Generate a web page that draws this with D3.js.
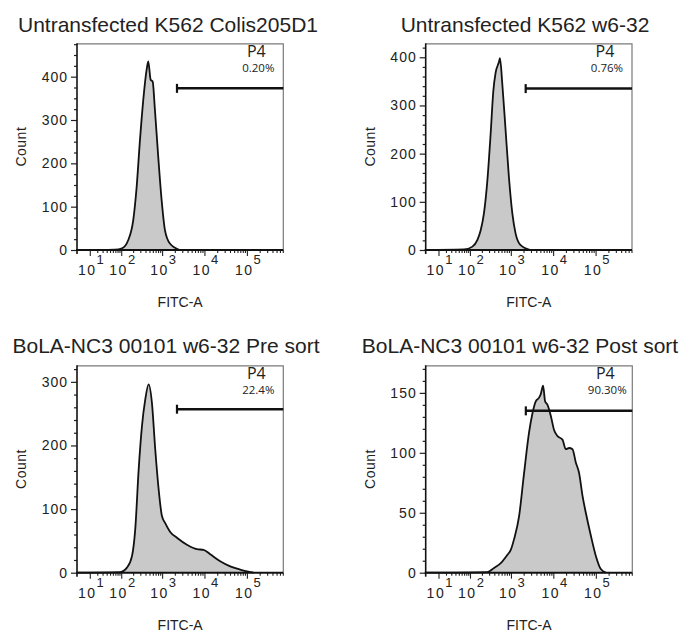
<!DOCTYPE html>
<html>
<head>
<meta charset="utf-8">
<script src="https://cdn.jsdelivr.net/npm/d3@7"></script>
<style>
  body { margin: 0; background: #fff; }
  svg text { font-family: "Liberation Sans", Arial, Helvetica, sans-serif; fill: #222; }
  svg text.gate-label { font-family: "Open Sans", "Liberation Sans", sans-serif; }
</style>
</head>
<body>
<svg id="chart" width="689" height="632"></svg>
<script>
// ---- data ----
const titles = [
  'Untransfected K562 Colis205D1',
  'Untransfected K562 w6-32',
  'BoLA-NC3 00101 w6-32 Pre sort',
  'BoLA-NC3 00101 w6-32 Post sort'
];
const gateName = 'P4';
const gatePercents = ['0.20%', '0.76%', '22.4%', '90.30%'];
const gateStart = [2250, 2250, 2250, 2250];
const gateLevel = [373, 335, 257, 135];

const yMax = [477, 429, 326, 173];
const yMajorStep = [100, 100, 100, 50];
const yMinorStep = [25, 20, 20, 10];

const xDomain = [0, 720000];
const xExponents = [1, 2, 3, 4, 5];
const xLabelTitle = 'FITC-A';
const yLabelTitle = 'Count';

// FITC-A intensity / count pairs for each histogram
const fitcColis = [0, 68, 105, 151, 201, 244, 294, 353, 426, 466, 532, 594, 674, 808, 973, 1166, 1530, 2640];
const countColis = [0, 1, 4, 23, 69, 146, 254, 346, 416, 435, 393, 389, 323, 215, 115, 46, 15, 0];

const fitcW632 = [0, 70, 116, 155, 187, 225, 273, 328, 381, 433, 520, 550, 627, 753, 901, 1086, 1300, 1708, 2943];
const countW632 = [0, 1, 7, 21, 41, 76, 144, 241, 330, 368, 390, 398, 344, 247, 151, 76, 34, 10, 0];

const fitcPre = [0, 94, 140, 187, 225, 273, 328, 394, 476, 571, 685, 826, 990, 1185, 1557, 2242, 3860, 6640, 9560, 13670, 23510, 40450, 69500, 143700];
const countPre = [0, 1, 8, 26, 68, 162, 230, 272, 296, 267, 194, 131, 89, 78, 64, 55, 44, 37, 36, 29, 18, 10, 5, 0];

const fitcPost = [0, 273, 394, 571, 826, 990, 1185, 1557, 2044, 2682, 3228, 3860, 4620, 5065, 5740, 6400, 7290, 8714, 10420, 12530, 16430, 19650, 23510, 28270, 33810, 40450, 48630, 58130, 76240, 99970, 131000, 171800];
const countPost = [0, 0.5, 4, 8, 15, 19, 28, 47, 83, 117, 133, 143, 146, 149, 156, 143, 140, 131, 119, 114, 111, 103, 104, 103, 92, 83, 64, 50, 31, 14, 3, 0];

const fitcSeries = [fitcColis, fitcW632, fitcPre, fitcPost];
const countSeries = [countColis, countW632, countPre, countPost];

// ---- layout ----
const panels = [
  { left: 77,    top: 43.3,  w: 206.3, h: 206.7, titleX: 168, titleY: 31.7 },
  { left: 425.7, top: 43.3,  w: 206.3, h: 206.7, titleX: 525, titleY: 31.7 },
  { left: 77,    top: 365.3, w: 206.3, h: 207.4, titleX: 166, titleY: 352.5 },
  { left: 425.7, top: 365.3, w: 206.6, h: 207.4, titleX: 520, titleY: 352.5 }
];

const svg = d3.select('#chart');

panels.forEach((p, i) => {
  const g = svg.append('g').attr('transform', `translate(${p.left},${p.top})`);

  const x = d3.scaleSymlog().constant(10).domain(xDomain).range([0, p.w]);
  const y = d3.scaleLinear().domain([0, yMax[i]]).range([p.h, 0]);

  const pts = fitcSeries[i].map((v, k) => [v, countSeries[i][k]]);

  const area = d3.area()
    .x(d => x(d[0]))
    .y0(y(0))
    .y1(d => y(d[1]))
    .curve(d3.curveMonotoneX);
  const line = d3.line()
    .x(d => x(d[0]))
    .y(d => y(d[1]))
    .curve(d3.curveMonotoneX);

  g.append('path').attr('d', area(pts)).attr('fill', '#c9c9c9');
  g.append('path').attr('d', line(pts))
    .attr('fill', 'none').attr('stroke', '#111').attr('stroke-width', 1.8)
    .attr('stroke-linejoin', 'round');

  // frame (top + right, light)
  g.append('path').attr('d', `M0,0.5H${p.w}V${p.h}`)
    .attr('fill', 'none').attr('stroke', '#7a7a7a').attr('stroke-width', 1.2);

  // y axis
  const yMajors = d3.range(0, yMax[i] + 1, yMajorStep[i]);
  const yMinors = d3.range(0, yMax[i] + 1, yMinorStep[i]).filter(v => v % yMajorStep[i] !== 0);
  const yMinorAxis = g.append('g')
    .call(d3.axisLeft(y).tickValues(yMinors).tickSize(3).tickSizeOuter(0).tickFormat(''));
  yMinorAxis.select('.domain').remove();
  const yAxis = g.append('g')
    .call(d3.axisLeft(y).tickValues(yMajors).tickSize(6).tickSizeOuter(0).tickPadding(3));
  yAxis.select('.domain').remove();
  yAxis.selectAll('text')
    .style('font-size', '14px').style('letter-spacing', '1px').attr('fill', '#2a2a2a');
  g.selectAll('.tick line').attr('stroke', '#222').attr('stroke-width', 1.2);

  g.append('line').attr('x1', 0).attr('x2', 0).attr('y1', 0).attr('y2', p.h + 4)
    .attr('stroke', '#111').attr('stroke-width', 1.6);

  // x axis
  const xMajors = xExponents.map(e => Math.pow(10, e));
  const xMinors = [];
  xExponents.forEach(e => d3.range(2, 10).forEach(m => {
    const v = m * Math.pow(10, e);
    if (v <= xDomain[1]) xMinors.push(v);
  }));
  const xAxisG = g.append('g').attr('transform', `translate(0,${p.h})`);
  xAxisG.append('g')
    .call(d3.axisBottom(x).tickValues(xMinors).tickSize(3).tickSizeOuter(0).tickFormat(''))
    .select('.domain').remove();
  const xMaj = xAxisG.append('g')
    .call(d3.axisBottom(x).tickValues(xMajors).tickSize(6).tickSizeOuter(0).tickFormat(''));
  xMaj.select('.domain').remove();
  xAxisG.selectAll('.tick line').attr('stroke', '#222').attr('stroke-width', 1.1);

  xAxisG.append('line').attr('x1', -1).attr('x2', p.w).attr('y1', 0).attr('y2', 0)
    .attr('stroke', '#111').attr('stroke-width', 2);

  const lbl = xAxisG.selectAll('text.xl').data(xExponents).enter().append('text')
    .attr('class', 'xl')
    .attr('x', e => x(Math.pow(10, e)) + 1)
    .attr('y', 25)
    .attr('text-anchor', 'middle')
    .style('font-size', '14px')
    .attr('fill', '#2a2a2a');
  lbl.append('tspan').style('letter-spacing', '1.5px').text('10');
  lbl.append('tspan').attr('dy', -11).style('font-size', '13px').text(e => e);

  // axis titles
  g.append('text')
    .attr('x', p.w / 2).attr('y', p.h + 57.5)
    .attr('text-anchor', 'middle').style('font-size', '14px')
    .text(xLabelTitle);
  g.append('text')
    .attr('transform', `translate(-51,${p.h / 2}) rotate(-90)`)
    .attr('text-anchor', 'middle').style('font-size', '14px').style('letter-spacing', '0.5px')
    .text(yLabelTitle);

  // gate
  const gx0 = x(gateStart[i]);
  const gy = y(gateLevel[i]);
  g.append('line').attr('x1', gx0).attr('x2', p.w).attr('y1', gy).attr('y2', gy)
    .attr('stroke', '#111').attr('stroke-width', 2.5);
  g.append('line').attr('x1', gx0).attr('x2', gx0).attr('y1', gy - 4.5).attr('y2', gy + 4.5)
    .attr('stroke', '#111').attr('stroke-width', 2.2);

  g.append('text').attr('class', 'gate-label')
    .attr('x', p.w - 27).attr('y', 13.5)
    .attr('text-anchor', 'middle').style('font-size', '16px').attr('fill', '#111')
    .text(gateName);
  g.append('text').attr('class', 'gate-label')
    .attr('x', p.w - 25).attr('y', 29)
    .attr('text-anchor', 'middle').style('font-size', '11.5px').attr('fill', '#222')
    .text(gatePercents[i]);

  // panel title
  svg.append('text')
    .attr('x', p.titleX).attr('y', p.titleY)
    .attr('text-anchor', 'middle').style('font-size', '21px').attr('fill', '#2a2a2a')
    .text(titles[i]);
});
</script>
</body>
</html>
